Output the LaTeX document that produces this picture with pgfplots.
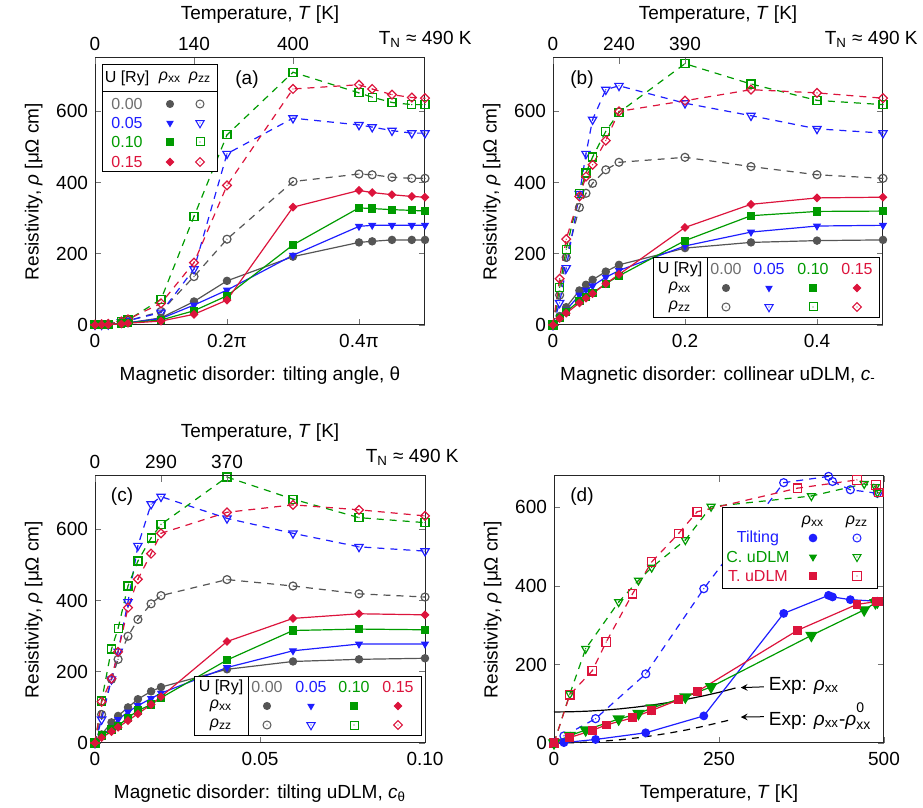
\documentclass[border=0pt]{standalone}
\usepackage{fontspec}
\setmainfont{Liberation Sans}
\usepackage{pgfplots}
\usepackage{pgfplotstable}
\pgfplotsset{compat=1.18}

\definecolor{cgray}{RGB}{85,85,85}
\definecolor{clgray}{RGB}{110,110,110}
\definecolor{cblue}{RGB}{30,30,255}
\definecolor{cgreen}{RGB}{0,155,0}
\definecolor{cred}{RGB}{220,20,60}

\newcommand{\fs}{\fontsize{9.5}{11}\selectfont}
\newcommand{\lfs}{\fontsize{8}{9.5}\selectfont}

\pgfdeclareplotmark{dtri*}{%
  \pgfpathmoveto{\pgfqpointpolar{-90}{1.2\pgfplotmarksize}}%
  \pgfpathlineto{\pgfqpointpolar{30}{1.2\pgfplotmarksize}}%
  \pgfpathlineto{\pgfqpointpolar{150}{1.2\pgfplotmarksize}}%
  \pgfpathclose\pgfusepathqfillstroke}
\pgfdeclareplotmark{dtridot}{%
  \pgfpathmoveto{\pgfqpointpolar{-90}{1.2\pgfplotmarksize}}%
  \pgfpathlineto{\pgfqpointpolar{30}{1.2\pgfplotmarksize}}%
  \pgfpathlineto{\pgfqpointpolar{150}{1.2\pgfplotmarksize}}%
  \pgfpathclose\pgfusepathqstroke
  \pgfpathcircle{\pgfpointorigin}{0.35pt}\pgfusepathqfill}
\pgfdeclareplotmark{odot}{%
  \pgfpathcircle{\pgfpointorigin}{\pgfplotmarksize}\pgfusepathqstroke
  \pgfpathcircle{\pgfpointorigin}{0.35pt}\pgfusepathqfill}
\pgfdeclareplotmark{sqdot}{%
  \pgfpathrectangle{\pgfqpoint{-\pgfplotmarksize}{-\pgfplotmarksize}}{\pgfqpoint{2\pgfplotmarksize}{2\pgfplotmarksize}}\pgfusepathqstroke
  \pgfpathcircle{\pgfpointorigin}{0.35pt}\pgfusepathqfill}
\pgfdeclareplotmark{sq*}{%
  \pgfpathrectangle{\pgfqpoint{-\pgfplotmarksize}{-\pgfplotmarksize}}{\pgfqpoint{2\pgfplotmarksize}{2\pgfplotmarksize}}\pgfusepathqfillstroke}
\pgfdeclareplotmark{diadot}{%
  \pgfpathmoveto{\pgfqpoint{0pt}{\pgfplotmarksize}}%
  \pgfpathlineto{\pgfqpoint{\pgfplotmarksize}{0pt}}%
  \pgfpathlineto{\pgfqpoint{0pt}{-\pgfplotmarksize}}%
  \pgfpathlineto{\pgfqpoint{-\pgfplotmarksize}{0pt}}%
  \pgfpathclose\pgfusepathqstroke
  \pgfpathcircle{\pgfpointorigin}{0.35pt}\pgfusepathqfill}
\pgfdeclareplotmark{dia*}{%
  \pgfpathmoveto{\pgfqpoint{0pt}{\pgfplotmarksize}}%
  \pgfpathlineto{\pgfqpoint{\pgfplotmarksize}{0pt}}%
  \pgfpathlineto{\pgfqpoint{0pt}{-\pgfplotmarksize}}%
  \pgfpathlineto{\pgfqpoint{-\pgfplotmarksize}{0pt}}%
  \pgfpathclose\pgfusepathqfillstroke}

% legend key: x y color mark size
\newcommand{\lmk}[5]{\begin{scope}[shift={(#1,#2)}]\pgfsetcolor{#3}\pgfsetlinewidth{0.5pt}\pgfsetplotmarksize{#5}\pgfuseplotmark{#4}\end{scope}}

\newcommand{\rxx}{\textit{ρ}\textsubscript{xx}}
\newcommand{\rzz}{\textit{ρ}\textsubscript{zz}}

\pgfplotsset{
  panel/.style={scale only axis, width=165pt, height=133.5pt, clip=false,
    ymin=0, ymax=750, ytick={0,200,400,600},
    tick align=inside, major tick length=3pt,
    /pgf/number format/assume math mode=true,
    tick label style={font=\fs, black}, label style={font=\fs},
    every tick/.style={black!55, line width=0.4pt},
    axis line style={black!85, line width=0.5pt}},
  bottomx/.style={xticklabel style={yshift=-1.2pt}, xlabel style={yshift=-2.5pt}},
  xxg/.style={cgray, solid, line width=0.6pt, mark=*, mark size=1.8pt, mark options={solid}},
  xxb/.style={cblue, solid, line width=0.6pt, mark=dtri*, mark size=1.5pt, mark options={solid}},
  xxgr/.style={cgreen, solid, line width=0.6pt, mark=sq*, mark size=1.75pt, mark options={solid}},
  xxr/.style={cred, solid, line width=0.6pt, mark=dia*, mark size=1.8pt, mark options={solid}},
  zzg/.style={cgray, dash pattern=on 3.5pt off 3pt, line width=0.6pt, mark=odot, mark size=2pt, mark options={solid}},
  zzb/.style={cblue, dash pattern=on 3.5pt off 3pt, line width=0.6pt, mark=dtridot, mark size=2pt, mark options={solid}},
  zzgr/.style={cgreen, dash pattern=on 3.5pt off 3pt, line width=0.6pt, mark=sqdot, mark size=2pt, mark options={solid}},
  zzr/.style={cred, dash pattern=on 3.5pt off 3pt, line width=0.6pt, mark=diadot, mark size=2.2pt, mark options={solid}},
}

\pgfplotstableread{
x gx bx grx rx gz bz grz rz
0     0   0   0   0   1   1   1   1
0.01  1   1   1   1   1   1   1   2
0.02  1   1   1   1   2   2   2   3
0.04  4   4   4   3   8   8   9   10
0.05  6   6   6   5   12  12  14  16
0.1   20  18  14  11  38  35  72  61
0.15  66  56  40  30  136 157 305 175
0.2   124 98  82  70  241 481 534 392
0.3   192 196 225 331 403 581 710 663
0.4   232 277 329 378 424 562 652 675
0.42  235 280 327 372 422 556 640 663
0.45  239 280 324 366 415 546 625 647
0.48  239 280 322 361 412 539 619 639
0.5   239 280 320 359 412 539 619 637
}\tabA

\pgfplotstableread{
x gx bx grx rx gz bz grz rz
0    0   0   0   0   0   0   0   0
0.01 25  22  19  18  84  62  106 130
0.02 50  42  37  33  190 160 213 241
0.04 97  84  68  62  330 368 370 361
0.05 113 98  78  75  370 481 427 417
0.06 127 110 90  88  398 577 472 450
0.08 150 134 116 116 436 661 544 518
0.1  169 153 138 142 457 672 597 600
0.2  216 222 237 274 471 623 734 630
0.3  232 261 307 339 445 588 677 661
0.4  237 278 319 357 422 551 631 652
0.5  239 280 320 359 412 539 619 637
}\tabB

\pgfplotstableread{
x gx bx grx rx gz bz grz rz
0     0   0   0   0   0   0   0   0
0.002 24  19  21  15  80  66  118 116
0.005 58  44  38  32  179 179 264 181
0.007 76  66  48  44  235 257 322 256
0.01  100 87  71  63  300 396 441 380
0.013 123 105 91  82  347 554 511 460
0.017 145 125 108 108 391 671 576 532
0.02  157 140 127 130 414 692 614 589
0.04  207 212 233 285 459 631 747 648
0.06  229 259 316 350 441 589 685 669
0.08  235 278 320 363 419 551 633 655
0.1   238 278 318 360 410 539 619 638
}\tabC

\pgfplotstableread{
T xx zz
0   0   0
15  1   18
63  9   62
139 26  176
227 69  393
348 330 663
416 376 679
422 372 666
449 365 645
490 361 636
}\tabTilt

\pgfplotstableread{
T xx zz
0   0   0
24  19  125
48  33  240
98  61  359
128 75  414
148 89  447
199 117 517
238 143 602
390 274 629
470 339 660
487 357 652
490 359 638
}\tabCu

\pgfplotstableread{
T xx zz
0   0   0
24  14  123
58  32  184
79  46  257
119 64  380
148 83  461
189 110 534
217 131 589
369 287 649
459 353 670
488 360 657
492 360 638
}\tabTu

\pgfplotstableread{
T r
0   79
25  79.5
50  81
75  83.5
100 87
125 91.5
150 97
175 103.5
200 111
225 119.5
250 129
275 140
}\tabExp

\pgfplotstableread{
T r
0   0
25  0.5
50  2
75  4.7
100 8.3
125 13
150 18.7
175 25.4
200 33
225 42
250 52
270 60
}\tabExpz

\begin{document}
\begin{tikzpicture}[font=\fs]
\useasboundingbox (0,0) rectangle (461.5pt,-404pt);

% ---------------- (a)
\begin{axis}[panel, bottomx, at={(47.5pt,-29pt)}, anchor=north west,
  xmin=0, xmax=0.5, xtick={0,0.2,0.4}, xticklabels={0,0.2π,0.4π}, xtick pos=lower,
  xlabel={Magnetic disorder: tilting angle, θ},
  ylabel={Resistivity, \textit{ρ} [μΩ cm]}]
\addplot[zzg] table[x=x,y=gz] {\tabA};
\addplot[zzb] table[x=x,y=bz] {\tabA};
\addplot[zzgr] table[x=x,y=grz] {\tabA};
\addplot[zzr] table[x=x,y=rz] {\tabA};
\addplot[xxg] table[x=x,y=gx] {\tabA};
\addplot[xxb] table[x=x,y=bx] {\tabA};
\addplot[xxgr] table[x=x,y=grx] {\tabA};
\addplot[xxr] table[x=x,y=rx] {\tabA};
\end{axis}
\begin{axis}[panel, at={(47.5pt,-29pt)}, anchor=north west,
  xmin=0, xmax=0.5, axis x line*=top, axis y line=none,
  xtick={0,0.15,0.3}, xticklabels={0,140,400},
  xlabel={Temperature, \textit{T} [K]}]
\end{axis}

% ---------------- (b)
\begin{axis}[panel, bottomx, at={(276.5pt,-29pt)}, anchor=north west,
  xmin=0, xmax=0.5, xtick={0,0.2,0.4}, xticklabels={0,0.2,0.4}, xtick pos=lower,
  xlabel={Magnetic disorder: collinear uDLM, \textit{c}\textsubscript{-}},
  ylabel={Resistivity, \textit{ρ} [μΩ cm]}]
\addplot[zzg] table[x=x,y=gz] {\tabB};
\addplot[zzb] table[x=x,y=bz] {\tabB};
\addplot[zzgr] table[x=x,y=grz] {\tabB};
\addplot[zzr] table[x=x,y=rz] {\tabB};
\addplot[xxg] table[x=x,y=gx] {\tabB};
\addplot[xxb] table[x=x,y=bx] {\tabB};
\addplot[xxgr] table[x=x,y=grx] {\tabB};
\addplot[xxr] table[x=x,y=rx] {\tabB};
\end{axis}
\begin{axis}[panel, at={(276.5pt,-29pt)}, anchor=north west,
  xmin=0, xmax=0.5, axis x line*=top, axis y line=none,
  xtick={0,0.1,0.2}, xticklabels={0,240,390},
  xlabel={Temperature, \textit{T} [K]}]
\end{axis}

% ---------------- (c)
\begin{axis}[panel, bottomx, at={(47.5pt,-238pt)}, anchor=north west,
  xmin=0, xmax=0.1, xtick={0,0.05,0.1}, xticklabels={0,0.05,0.10}, xtick pos=lower,
  xlabel={Magnetic disorder: tilting uDLM, \textit{c}\textsubscript{θ}},
  ylabel={Resistivity, \textit{ρ} [μΩ cm]}]
\addplot[zzg] table[x=x,y=gz] {\tabC};
\addplot[zzb] table[x=x,y=bz] {\tabC};
\addplot[zzgr] table[x=x,y=grz] {\tabC};
\addplot[zzr] table[x=x,y=rz] {\tabC};
\addplot[xxg] table[x=x,y=gx] {\tabC};
\addplot[xxb] table[x=x,y=bx] {\tabC};
\addplot[xxgr] table[x=x,y=grx] {\tabC};
\addplot[xxr] table[x=x,y=rx] {\tabC};
\end{axis}
\begin{axis}[panel, at={(47.5pt,-238pt)}, anchor=north west,
  xmin=0, xmax=0.1, axis x line*=top, axis y line=none,
  xtick={0,0.02,0.04}, xticklabels={0,290,370},
  xlabel={Temperature, \textit{T} [K]}]
\end{axis}

% ---------------- (d)
\begin{axis}[panel, bottomx, at={(277pt,-238pt)}, anchor=north west,
  xmin=0, xmax=500, ymax=680, xtick={0,250,500},
  xlabel={Temperature, \textit{T} [K]},
  ylabel={Resistivity, \textit{ρ} [μΩ cm]}]
\addplot[black, solid, line width=0.6pt, no marks] table[x=T,y=r] {\tabExp};
\addplot[black, dash pattern=on 3.5pt off 3pt, line width=0.6pt, no marks] table[x=T,y=r] {\tabExpz};
\addplot[cblue, dash pattern=on 3.5pt off 3pt, line width=0.6pt, mark=odot, mark size=2pt, mark options={solid}] table[x=T,y=zz] {\tabTilt};
\addplot[cgreen, dash pattern=on 3.5pt off 3pt, line width=0.6pt, mark=dtridot, mark size=1.9pt, mark options={solid}] table[x=T,y=zz] {\tabCu};
\addplot[cred, dash pattern=on 3.5pt off 3pt, line width=0.6pt, mark=sqdot, mark size=2.1pt, mark options={solid}] table[x=T,y=zz] {\tabTu};
\addplot[cblue, solid, line width=0.6pt, mark=*, mark size=1.9pt] table[x=T,y=xx] {\tabTilt};
\addplot[cgreen, solid, line width=0.6pt, mark=dtri*, mark size=2.5pt] table[x=T,y=xx] {\tabCu};
\addplot[cred, solid, line width=0.6pt, mark=sq*, mark size=1.9pt] table[x=T,y=xx] {\tabTu};
\draw[-stealth, line width=0.5pt] (axis cs:318,143) -- (axis cs:283,141);
\draw[-stealth, line width=0.5pt] (axis cs:318,67) -- (axis cs:283,66);
\node[anchor=west, inner sep=0pt] at (axis cs:325,145) {Exp: \rxx};
\node[anchor=west, inner sep=0pt] at (axis cs:325,68) {Exp: \textit{ρ}\textsubscript{xx}-\textit{ρ}\rlap{\raisebox{1.25ex}{\scriptsize 0}}\raisebox{-0.45ex}{\scriptsize xx}};
\end{axis}

% ---------------- overlays in pixel units
\begin{scope}[x=0.5pt, y=-0.5pt]
% panel labels
\node at (247,80) {(a)};
\node at (582,80) {(b)};
\node at (122,497) {(c)};
\node at (582,497) {(d)};
% T_N labels
\node[anchor=base east, inner sep=0pt] at (472,45) {T\textsubscript{N} ≈ 490 K};
\node[anchor=base east, inner sep=0pt] at (918,45) {T\textsubscript{N} ≈ 490 K};
\node[anchor=base east, inner sep=0pt] at (459,463) {T\textsubscript{N} ≈ 490 K};

\begin{scope}[every node/.style={font=\lfs}]
% legend (a)
\draw[fill=white, line width=0.5pt] (102,65) rectangle (217,172);
\draw[line width=0.5pt] (102,92) -- (217,92);
\node at (127,78) {U [Ry]};
\node at (170,78) {\rxx};
\node at (200,78) {\rzz};
\node[clgray] at (127,104) {0.00};
\node[cblue] at (127,123) {0.05};
\node[cgreen] at (127,142) {0.10};
\node[cred] at (127,162) {0.15};
\lmk{170}{104}{cgray}{*}{1.75pt}
\lmk{200}{104}{cgray}{odot}{2pt}
\lmk{170}{123}{cblue}{dtri*}{1.45pt}
\lmk{200}{123}{cblue}{dtridot}{2pt}
\lmk{170}{142}{cgreen}{sq*}{1.7pt}
\lmk{200}{142}{cgreen}{sqdot}{2pt}
\lmk{170}{162}{cred}{dia*}{1.8pt}
\lmk{200}{162}{cred}{diadot}{2.2pt}

% legend (b)
\draw[fill=white, line width=0.5pt] (653,258) rectangle (879,318);
\draw[line width=0.5pt] (707,258) -- (707,318);
\node at (680,269) {U [Ry]};
\node at (680,288) {\rxx};
\node at (680,307) {\rzz};
\node[clgray] at (726,269) {0.00};
\node[cblue] at (769,269) {0.05};
\node[cgreen] at (813,269) {0.10};
\node[cred] at (857,269) {0.15};
\lmk{726}{288}{cgray}{*}{1.75pt}
\lmk{769}{288}{cblue}{dtri*}{1.45pt}
\lmk{813}{288}{cgreen}{sq*}{1.7pt}
\lmk{857}{288}{cred}{dia*}{1.8pt}
\lmk{726}{307}{cgray}{odot}{2pt}
\lmk{769}{307}{cblue}{dtridot}{2pt}
\lmk{813}{307}{cgreen}{sqdot}{2pt}
\lmk{857}{307}{cred}{diadot}{2.2pt}

% legend (c)
\draw[fill=white, line width=0.5pt] (194,676) rectangle (421,735);
\draw[line width=0.5pt] (248,676) -- (248,735);
\node at (221,687) {U [Ry]};
\node at (221,706) {\rxx};
\node at (221,725) {\rzz};
\node[clgray] at (267,687) {0.00};
\node[cblue] at (311,687) {0.05};
\node[cgreen] at (354,687) {0.10};
\node[cred] at (398,687) {0.15};
\lmk{267}{706}{cgray}{*}{1.75pt}
\lmk{311}{706}{cblue}{dtri*}{1.45pt}
\lmk{354}{706}{cgreen}{sq*}{1.7pt}
\lmk{398}{706}{cred}{dia*}{1.8pt}
\lmk{267}{725}{cgray}{odot}{2pt}
\lmk{311}{725}{cblue}{dtridot}{2pt}
\lmk{354}{725}{cgreen}{sqdot}{2pt}
\lmk{398}{725}{cred}{diadot}{2.2pt}

% legend (d)
\draw[fill=white, line width=0.5pt] (722,508) rectangle (877,588);
\node at (813,522) {\rxx};
\node at (857,522) {\rzz};
\node[cblue] at (758,538) {Tilting};
\node[cgreen] at (758,557) {C. uDLM};
\node[cred] at (758,576) {T. uDLM};
\lmk{813}{538}{cblue}{*}{1.9pt}
\lmk{857}{538}{cblue}{odot}{2pt}
\lmk{813}{557}{cgreen}{dtri*}{1.6pt}
\lmk{857}{557}{cgreen}{dtridot}{1.9pt}
\lmk{813}{576}{cred}{sq*}{1.9pt}
\lmk{857}{576}{cred}{sqdot}{2.1pt}
\end{scope}
\end{scope}
\end{tikzpicture}
\end{document}
